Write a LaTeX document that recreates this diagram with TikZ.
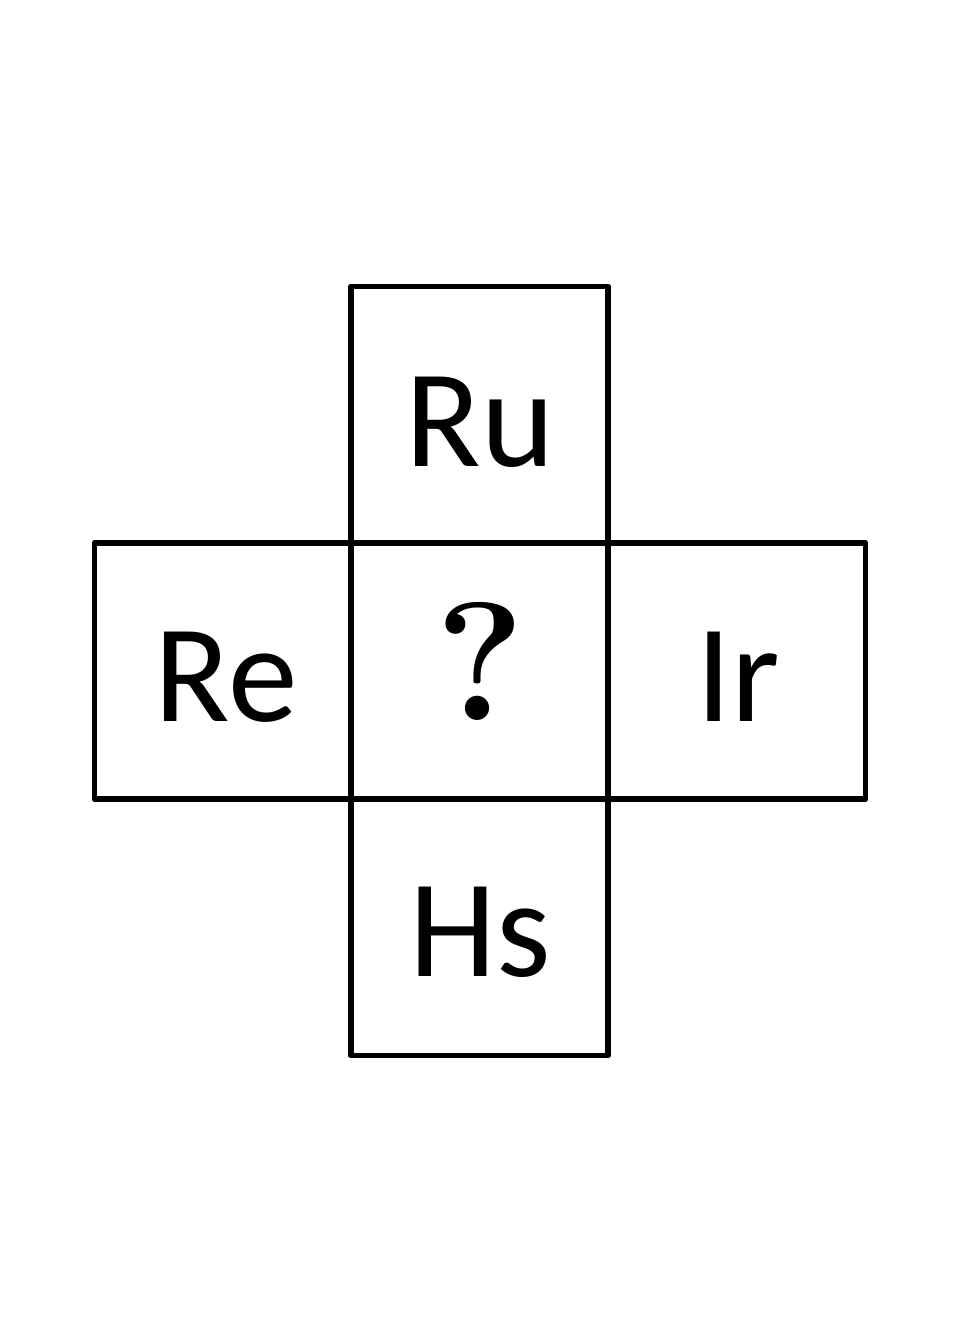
\documentclass[tikz,border=0pt]{standalone}
\usepackage{fontspec}
\setmainfont{Carlito}
\newfontfamily\qfont{Latin Modern Roman}
\begin{document}
\begin{tikzpicture}[x=0.03cm,y=-0.03cm,
  cell/.style={draw=black,line width=5pt,line join=round,minimum width=7.71cm,minimum height=7.68cm,inner sep=0pt,outer sep=0pt},
  lbl/.style={anchor=base,inner sep=0pt,font=\fontsize{119}{140}\selectfont}]
\useasboundingbox (0,0) rectangle (960,1344);
\node[cell] (top) at (479.5,414.5) {};
\node[cell] (left) at (223,671) {};
\node[cell] (right) at (737,671) {};
\node[cell] (bottom) at (479.5,927.5) {};
\node[cell] (center) at (479.5,671) {};
\node[lbl] (ru) at (480,466) {Ru};
\node[lbl] (re) at (226,721) {Re};
\node[lbl] (ir) at (738,721) {Ir};
\node[lbl] (hs) at (480,976) {Hs};
\node[anchor=base,inner sep=0pt,font=\qfont\bfseries\fontsize{144}{170}\selectfont] (q) at (480,720) {?};
\end{tikzpicture}
\end{document}
